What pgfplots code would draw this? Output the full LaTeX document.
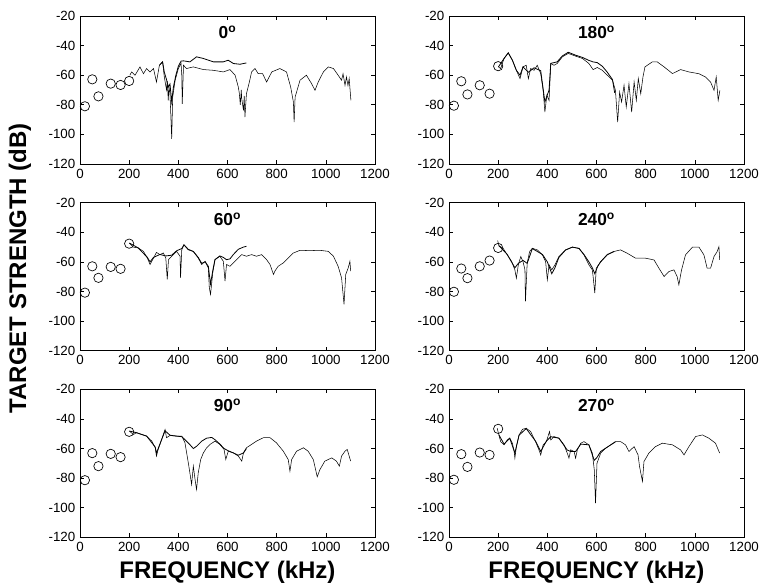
\documentclass[border=0pt]{standalone}
\usepackage{fontspec}
\setmainfont{Liberation Sans}
\usepackage{pgfplots}
\pgfplotsset{compat=1.18}
\usepgfplotslibrary{groupplots}
\usetikzlibrary{calc}

\begin{document}
\begin{tikzpicture}
\begin{groupplot}[
  group style={group size=2 by 3, horizontal sep=55.5pt, vertical sep=29pt},
  scale only axis, width=221.25pt, height=111pt,
  xmin=0, xmax=1200, ymin=-120, ymax=-20,
  xtick={0,200,...,1200}, xticklabels={0,200,400,600,800,1000,1200},
  ytick={-120,-100,...,-20}, yticklabels={-120,-100,-80,-60,-40,-20},
  tick align=inside, major tick length=3pt,
  tick label style={font=\fontsize{10}{12}\selectfont},
  axis line style={line width=0.6pt},
  every tick/.style={black, line width=0.5pt},
  title style={at={(0.5,0.89)}, anchor=center, yshift=-6pt, font=\bfseries\fontsize{13}{15}\selectfont},
  cycle list={{black, no markers, line width=0.6pt}},
  circ/.style={black, only marks, mark=o, mark size=3.5pt, mark options={line width=0.5pt}},
]
% ---- 0 deg
\nextgroupplot[title={0\textsuperscript{o}}]
\coordinate (tl) at (rel axis cs:0,1);
\addplot[circ] coordinates {(20,-81)(50,-62.8)(75,-74.3)(125,-65.7)(165,-66.6)(200,-63.9)};
\addplot coordinates {(203,-60)(210,-57.8)(224,-60)(244,-54.4)(258,-59)(271,-55.5)(285,-57.8)(299,-55.5)
  (311,-64.6)(323,-53.3)(336,-51)(343,-61.2)(352,-70)(355,-64)(359,-77)(362,-68)(366,-72.5)(369,-85)
  (373,-103)(377,-74.8)(387,-63.4)(400,-55.5)(411,-52)(414,-60)(416,-79.3)(421,-53.3)(433,-55.5)
  (461,-54.4)(502,-56.2)(543,-56.7)(583,-57.8)(610,-56.2)(631,-60)(644,-68)(648,-72)(652,-80)(656,-70)
  (658,-75.9)(665,-83.8)(668,-74)(671,-88.3)(677,-72.5)(689,-64.6)(698,-57.8)(712,-55.5)(725,-59)
  (743,-59)(759,-64.6)(780,-57.8)(813,-55.5)(840,-57.8)(857,-68)(868,-78.1)(871,-91.7)(875,-74.8)
  (895,-63.4)(921,-60)(942,-65.7)(956,-70.2)(969,-64.6)(990,-57.8)(1010,-54.4)(1031,-55.5)(1050,-60)
  (1064,-63.4)(1070,-59)(1078,-66.8)(1084,-61.2)(1090,-67)(1095,-62.3)(1102,-77)};
\addplot coordinates {(323,-53.3)(336,-51)(343,-58)(352,-63)(359,-68)(366,-66)(373,-78)(380,-68)
  (390,-60)(400,-54)(411,-50.5)(421,-50.3)(447,-51)(474,-47.6)(502,-48.7)(543,-51)(583,-51)
  (603,-49.9)(624,-52.1)(651,-52.6)(677,-51.7)};
% ---- 180 deg
\nextgroupplot[title={180\textsuperscript{o}}]
\addplot[circ] coordinates {(20,-80.6)(50,-64.1)(75,-73)(125,-66.8)(165,-72.5)(200,-53.9)};
\addplot coordinates {(201,-54.4)(210,-55.5)(224,-48.7)(241,-44.9)(258,-49.9)(274,-56.7)(289,-62.3)
  (301,-54.4)(314,-53.3)(323,-62.3)(332,-55.5)(346,-56.7)(359,-53.3)(373,-58.9)(383,-70.2)(390,-84.9)
  (398,-73.6)(407,-77)(414,-52.1)(427,-53.3)(440,-52.1)(461,-47.6)(485,-45.3)(515,-47.1)(543,-48.7)
  (569,-52.1)(586,-56.2)(603,-54.8)(624,-56.7)(644,-60)(665,-63.4)(677,-70.2)(686,-91.7)(694,-71.4)
  (702,-78.1)(712,-66.8)(721,-81.5)(732,-65.7)(743,-84.9)(753,-64.6)(762,-77)(770,-62.3)(780,-72.5)
  (789,-61.2)(797,-54.4)(827,-51)(847,-51)(875,-54.4)(909,-58.9)(942,-56.2)(976,-57.8)(1017,-59)
  (1043,-61.2)(1064,-64.6)(1078,-70.2)(1087,-61.2)(1095,-77)(1102,-70.2)};
\addplot coordinates {(201,-54.4)(224,-48.7)(241,-44.9)(258,-49.9)(274,-56.7)(289,-60)(301,-54.4)
  (323,-58)(346,-55)(373,-57)(390,-78)(407,-70)(414,-52)(440,-51)(461,-47)(485,-44.5)(515,-46.5)
  (543,-48)(569,-50)(586,-51)(603,-51.5)(624,-54)(644,-58)(665,-63)(674,-72)};
% ---- 60 deg
\nextgroupplot[title={60\textsuperscript{o}}, ylabel={TARGET STRENGTH (dB)},
  ylabel style={at={(axis description cs:-0.204,0.557)}, anchor=center, font=\bfseries\fontsize{18}{20}\selectfont}]
\addplot[circ] coordinates {(20,-80.8)(50,-63)(75,-70.8)(125,-63.4)(165,-64.7)(200,-47.7)};
\addplot coordinates {(201,-47.3)(217,-50)(237,-50.6)(258,-52.9)(274,-57.4)(285,-61.8)(299,-57.4)
  (311,-53.6)(325,-55.1)(339,-54)(349,-57.4)(355,-71.9)(360,-58.5)(373,-56.2)(393,-52.9)(407,-56.2)
  (409,-70.8)(414,-51.8)(423,-48.4)(440,-51.8)(461,-52.9)(481,-57.4)(495,-61.8)(509,-59.6)(522,-64.1)
  (526,-77.5)(531,-82)(540,-67.4)(549,-58.5)(569,-56.2)(583,-59.6)(590,-73)(596,-61.8)(610,-63)
  (624,-60.7)(637,-58.5)(658,-55.1)(677,-56.2)(698,-55.1)(718,-56.2)(739,-55.1)(759,-58.5)(773,-61.8)
  (787,-68.5)(793,-66.2)(806,-63)(827,-60.7)(847,-57.4)(868,-54)(895,-52.2)(935,-52.4)(976,-52.2)
  (1010,-52.9)(1031,-56.2)(1050,-63)(1064,-70.8)(1074,-88.7)(1081,-68.5)(1091,-64.1)(1098,-59.6)(1101,-66.3)};
\addplot coordinates {(201,-47.3)(237,-50.6)(274,-57)(285,-60)(299,-57)(325,-55)(349,-56)(373,-55.5)
  (393,-52.5)(414,-51)(423,-48.5)(440,-51.5)(461,-53)(481,-57)(495,-61)(509,-60)(522,-63)(531,-75)
  (540,-66)(549,-58.5)(569,-56)(583,-57)(596,-58.5)(610,-58)(624,-55)(644,-51.5)(665,-50)(677,-49.5)};
% ---- 240 deg
\nextgroupplot[title={240\textsuperscript{o}}]
\addplot[circ] coordinates {(20,-80.2)(50,-64.5)(75,-71)(125,-63)(165,-59.1)(200,-50.6)};
\addplot coordinates {(198,-45.6)(203,-49.2)(220,-50.8)(237,-55.3)(255,-59.8)(268,-65.4)(274,-71)
  (282,-62)(292,-56.4)(301,-59.8)(309,-65.4)(311,-86.7)(318,-60.9)(328,-53)(339,-50.8)(359,-51.9)
  (380,-55.3)(393,-59.8)(400,-72.1)(407,-62)(418,-65.4)(431,-62)(447,-56.4)(474,-51.9)(502,-50.1)
  (529,-50.8)(549,-55.3)(569,-62)(583,-65.4)(587,-71)(593,-81.1)(599,-64.3)(617,-59.8)(644,-55.3)
  (671,-53)(698,-51.9)(725,-54.2)(759,-57.5)(799,-57.5)(834,-58.7)(854,-64.3)(875,-69.9)(895,-66.5)
  (915,-65.4)(928,-69.9)(935,-75.5)(946,-65.4)(962,-55.3)(990,-50.1)(1017,-50.1)(1037,-55.3)
  (1050,-64.3)(1064,-64.3)(1078,-56.4)(1091,-53)(1098,-49.7)(1101,-58.7)};
\addplot coordinates {(203,-49)(237,-55)(268,-64)(282,-61)(301,-59)(318,-61)(339,-51)(380,-55)
  (400,-60)(418,-68)(431,-64)(447,-57)(474,-52)(502,-50)(529,-51)(549,-55)(569,-60)(583,-64)
  (593,-68)(605,-63)(617,-60)(644,-55)(671,-53)};
% ---- 90 deg
\nextgroupplot[title={90\textsuperscript{o}}, xlabel={FREQUENCY (kHz)},
  xlabel style={at={(axis description cs:0.5,-0.236)}, anchor=center, font=\bfseries\fontsize{18}{20}\selectfont}]
\addplot[circ] coordinates {(20,-81.4)(50,-63.1)(75,-71.9)(125,-63.6)(165,-65.8)(200,-48.7)};
\addplot coordinates {(201,-48.2)(217,-50.5)(230,-49.3)(251,-50.5)(271,-51.6)(292,-55)(306,-59.5)
  (311,-65.1)(318,-60.6)(332,-53.9)(346,-47.1)(352,-52.7)(366,-51.2)(393,-51.6)(414,-51.6)(427,-56.1)
  (436,-65.1)(445,-74.2)(454,-84.3)(461,-71.9)(468,-80.9)(474,-87.7)(481,-76.4)(491,-67.4)(502,-62.9)
  (515,-59.5)(529,-57.2)(549,-55)(569,-57.2)(586,-60.6)(593,-67.4)(603,-61.8)(624,-62.9)(644,-65.1)
  (658,-68.5)(665,-62.9)(677,-59.5)(698,-57.2)(718,-55)(746,-52.7)(773,-52.7)(799,-56.1)(827,-61.8)
  (847,-67.4)(854,-75.3)(861,-67.4)(881,-61.8)(909,-59.5)(928,-61.8)(949,-67.4)(965,-79.1)(976,-74.2)
  (996,-68.5)(1024,-66.3)(1043,-68.5)(1055,-71.9)(1064,-65.1)(1078,-61.8)(1087,-60.6)(1101,-68.5)};
\addplot coordinates {(201,-48.2)(230,-49.3)(271,-51.6)(306,-59)(311,-63)(332,-54)(346,-48)(366,-51)
  (393,-51.6)(414,-52)(427,-54)(445,-57)(461,-60)(474,-58.5)(495,-55)(515,-53)(536,-52.5)(549,-54)
  (569,-57)(586,-60)(603,-61.5)(624,-63)(644,-64.5)(665,-63)(677,-60)};
% ---- 270 deg
\nextgroupplot[title={270\textsuperscript{o}}, xlabel={FREQUENCY (kHz)},
  xlabel style={at={(axis description cs:0.5,-0.236)}, anchor=center, font=\bfseries\fontsize{18}{20}\selectfont}]
\addplot[circ] coordinates {(20,-81.1)(50,-63.8)(75,-72.4)(125,-62.7)(165,-64.3)(200,-46.7)};
\addplot coordinates {(196,-46.3)(203,-50.8)(210,-55.3)(224,-57.5)(237,-54.2)(247,-53)(258,-56.4)
  (265,-62)(268,-66.5)(274,-58.7)(285,-50.8)(299,-47)(314,-46.3)(332,-48.5)(352,-55.3)(366,-60.9)
  (373,-64.3)(383,-57.5)(396,-55.3)(409,-48.5)(414,-54.2)(427,-51.9)(447,-53)(468,-57.5)(481,-63.1)
  (488,-66.5)(495,-60.9)(509,-62)(515,-66.5)(522,-60.9)(536,-56.4)(549,-55.3)(569,-57.5)(583,-63.1)
  (591,-74.4)(596,-96.9)(602,-69.9)(617,-63.1)(637,-59.8)(658,-57.5)(677,-55.3)(698,-55.3)(718,-57.5)
  (732,-62)(753,-58.7)(769,-64.3)(775,-72.1)(787,-82.2)(793,-68.8)(813,-63.1)(840,-58.7)(868,-56.4)
  (909,-57.5)(942,-60.9)(956,-64.3)(976,-58.7)(1003,-51.9)(1031,-50.8)(1057,-53)(1084,-56.4)(1101,-63.1)};
\addplot coordinates {(203,-50.8)(224,-57)(247,-53)(268,-63)(285,-51)(314,-46.5)(352,-55)(373,-62)
  (396,-55)(414,-52)(447,-53)(481,-61)(495,-62)(515,-62)(536,-57)(569,-57.5)(591,-68)(602,-66)
  (617,-62)(658,-57.5)(677,-55.5)};
\end{groupplot}
\pgfresetboundingbox
\path ($(tl)+(-60pt,12pt)$) rectangle ($(tl)+(513pt,-426.75pt)$);
\end{tikzpicture}
\end{document}
